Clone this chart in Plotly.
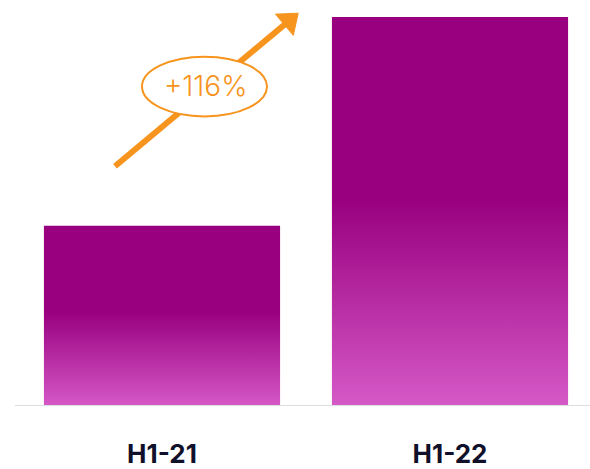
import plotly.graph_objects as go

categories = ["H1-21", "H1-22"]
values = [100, 216]
growth_label = "+116%"

bar_width = 0.82
dark = "#99007f"
light = "#d65ac8"
orange = "#f7941d"

fig = go.Figure()
for i, (cat, v) in enumerate(zip(categories, values)):
    x0, x1 = i - bar_width / 2, i + bar_width / 2
    fig.add_trace(go.Scatter(
        x=[x0, x1, x1, x0, x0], y=[0, 0, v, v, 0],
        mode="lines", line=dict(width=0), fill="toself",
        fillgradient=dict(type="vertical", start=0, stop=v,
                          colorscale=[[0, light], [0.53, dark], [1, dark]]),
        hoverinfo="skip", showlegend=False,
    ))

ymax = values[1] * 408 / 391


def px_to_data(px, py):
    return (px - 162) / 288, (408 - py) / 408 * ymax


# arrow (line + arrowhead marker), drawn under the ellipse
ax0, ay0 = px_to_data(115, 167)
ax1, ay1 = px_to_data(289, 21)
fig.add_trace(go.Scatter(
    x=[ax0, ax1], y=[ay0, ay1], mode="lines+markers",
    line=dict(color=orange, width=6),
    marker=dict(symbol="triangle-up", size=[0, 24], angleref="previous", color=orange,
                opacity=1, line=dict(width=1, color=orange)),
    hoverinfo="skip", showlegend=False,
))

fig.update_layout(
    width=590, height=469,
    margin=dict(l=0, r=0, t=0, b=61),
    paper_bgcolor="white", plot_bgcolor="white",
    xaxis=dict(range=[-162 / 288, 428 / 288], tickvals=list(range(len(categories))),
               ticktext=categories, showgrid=False, zeroline=False, showline=False,
               ticks="", tickfont=dict(family="Inter", size=26, color="#10102a", weight=700),
               fixedrange=True),
    yaxis=dict(range=[0, ymax], visible=False, fixedrange=True),
    showlegend=False,
)
fig.update_xaxes(ticklabelstandoff=30)

# baseline
fig.add_shape(type="line", xref="paper", yref="y", x0=15 / 590, x1=1, y0=0, y1=0,
              line=dict(color="#dedede", width=2), layer="above")

# ellipse
fig.add_shape(type="circle", xref="paper", yref="paper",
              x0=142 / 590, x1=267 / 590, y0=(408 - 117) / 408, y1=(408 - 57) / 408,
              line=dict(color=orange, width=2), fillcolor="white", layer="above")
fig.add_annotation(xref="paper", yref="paper", x=205 / 590, y=(408 - 86) / 408,
                   xanchor="center", yanchor="middle",
                   text=growth_label, showarrow=False,
                   font=dict(family="Inter", size=28, color=orange, weight=300))

fig.write_html("out.html")
